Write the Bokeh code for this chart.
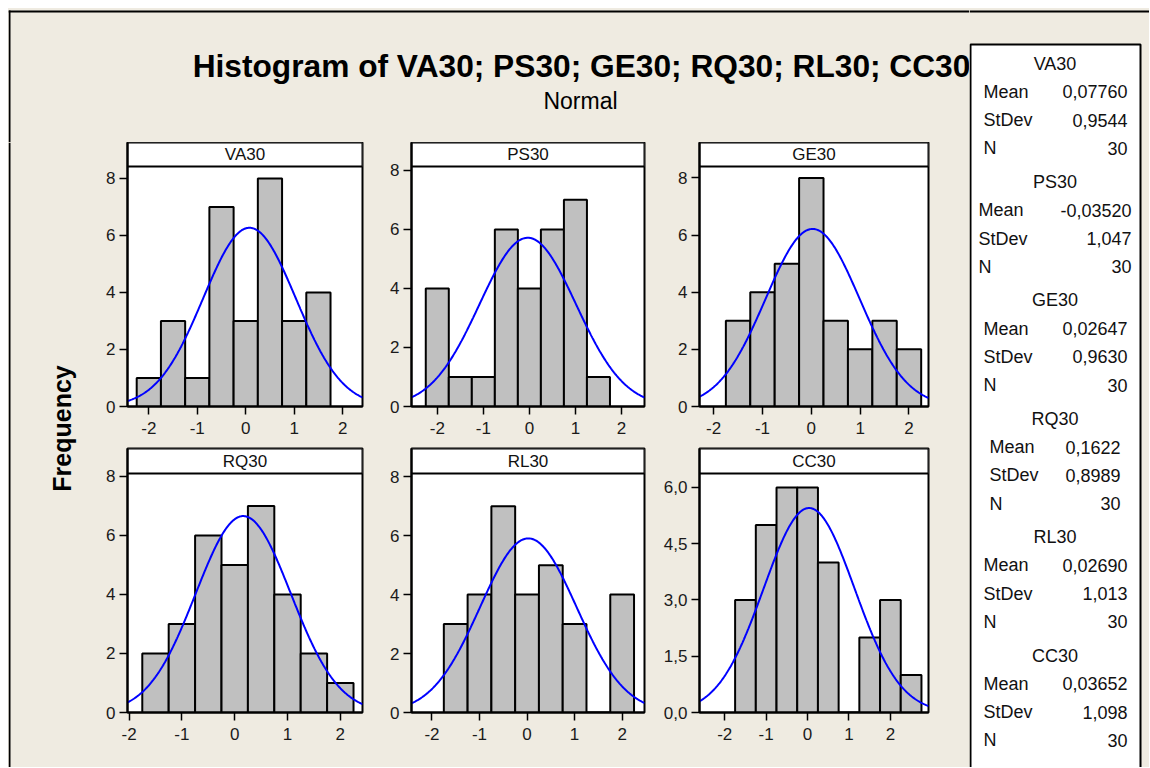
import numpy as np
from bokeh.plotting import figure
from bokeh.layouts import row, column
from bokeh.models import Range1d, FixedTicker, Spacer
from bokeh.core.properties import value
from bokeh.embed import file_html
from bokeh.resources import INLINE

# ---------------- data ----------------
variables = ["VA30", "PS30", "GE30", "RQ30", "RL30", "CC30"]

va30_centers = [-2.0, -1.5, -1.0, -0.5, 0.0, 0.5, 1.0, 1.5]
va30_counts = [1, 3, 1, 7, 3, 8, 3, 4]
ps30_centers = [-2.0, -1.5, -1.0, -0.5, 0.0, 0.5, 1.0, 1.5]
ps30_counts = [4, 1, 1, 6, 4, 6, 7, 1]
ge30_centers = [-1.5, -1.0, -0.5, 0.0, 0.5, 1.0, 1.5, 2.0]
ge30_counts = [3, 4, 5, 8, 3, 2, 3, 2]
rq30_centers = [-1.5, -1.0, -0.5, 0.0, 0.5, 1.0, 1.5, 2.0]
rq30_counts = [2, 3, 6, 5, 7, 4, 2, 1]
rl30_centers = [-1.5, -1.0, -0.5, 0.0, 0.5, 1.0, 1.5, 2.0]
rl30_counts = [3, 4, 7, 4, 5, 3, 0, 4]
cc30_centers = [-1.5, -1.0, -0.5, 0.0, 0.5, 1.0, 1.5, 2.0, 2.5]
cc30_counts = [3, 5, 6, 6, 4, 0, 2, 3, 1]

means = [0.07760, -0.03520, 0.02647, 0.1622, 0.02690, 0.03652]
stdevs = [0.9544, 1.047, 0.9630, 0.8989, 1.013, 1.098]
n_obs = [30, 30, 30, 30, 30, 30]
bin_width = 0.5

x_ticks = [-2, -1, 0, 1, 2]
x_tick_labels = ["-2", "-1", "0", "1", "2"]
freq_ticks = [0, 2, 4, 6, 8]
freq_tick_labels = ["0", "2", "4", "6", "8"]
cc_freq_ticks = [0, 1.5, 3, 4.5, 6]
cc_freq_tick_labels = ["0,0", "1,5", "3,0", "4,5", "6,0"]

title_text = "Histogram of VA30; PS30; GE30; RQ30; RL30; CC30"
subtitle_text = "Normal"
y_label_text = "Frequency"
stat_labels = ["Mean", "StDev", "N"]

centers_list = [va30_centers, ps30_centers, ge30_centers, rq30_centers, rl30_centers, cc30_centers]
counts_list = [va30_counts, ps30_counts, ge30_counts, rq30_counts, rl30_counts, cc30_counts]

# axis extents of each panel
x_limits = [(-2.44, 2.41), (-2.56, 2.50), (-2.29, 2.40), (-2.03, 2.42), (-2.43, 2.47), (-2.61, 2.92)]
y_limits = [8.42, 8.13, 8.40, 8.10, 8.11, 6.37]

# ---------------- style ----------------
BEIGE = "#EFEBE1"
FONT = "Liberation Sans"
BG = {"background-color": BEIGE}

col_specs = [(39, 235, 16), (33, 233, 16), (36, 232, 41)]  # left border, frame, right border
row_specs = [  # top border, strip height, plot height, bottom border
    (0, 24, 240, 34),
    (8, 25, 239, 55),
]


def panel_fig(i, col, r):
    lb, fw, rb = col_specs[col]
    tb, sh, ph, bb = row_specs[r]
    x0, x1 = x_limits[i]
    ymax = y_limits[i]
    ytop = ymax * (ph + sh) / ph  # strip sits above the plotting area
    p = figure(width=lb + fw + rb, height=tb + sh + ph + bb, x_range=Range1d(x0, x1),
               y_range=Range1d(0, ytop),
               min_border_left=lb, min_border_right=rb, min_border_top=tb, min_border_bottom=bb,
               output_backend="svg", toolbar_location=None,
               background_fill_color="white", border_fill_color=BEIGE,
               outline_line_color="black", outline_line_width=2)
    p.grid.visible = False
    c = np.array(centers_list[i], dtype=float)
    h = np.array(counts_list[i], dtype=float)
    p.quad(left=c - bin_width / 2, right=c + bin_width / 2, bottom=0, top=h,
           fill_color="#C0C0C0", line_color="black", line_width=2)
    xs = np.linspace(x0, x1, 300)
    m, s, n = means[i], stdevs[i], n_obs[i]
    ys = n * bin_width * np.exp(-0.5 * ((xs - m) / s) ** 2) / (s * np.sqrt(2 * np.pi))
    p.line(xs, ys, line_color="#0000FF", line_width=2)

    # strip header
    p.quad(left=x0, right=x1, bottom=ymax, top=ytop, fill_color="white",
           line_color="black", line_width=2)
    p.text(x=[(x0 + x1) / 2], y=[(ymax + ytop) / 2], text=[variables[i]],
           text_font=value(FONT), text_font_size="17px", text_align="center",
           text_baseline="middle", text_color="#111111")

    p.xaxis.ticker = FixedTicker(ticks=x_ticks)
    p.xaxis.major_label_overrides = {t: l for t, l in zip(x_ticks, x_tick_labels)}
    if variables[i] == "CC30":
        yt, yl = cc_freq_ticks, cc_freq_tick_labels
    else:
        yt, yl = freq_ticks, freq_tick_labels
    p.yaxis.ticker = FixedTicker(ticks=yt)
    p.yaxis.major_label_overrides = {t: l for t, l in zip(yt, yl)}
    for ax in (p.xaxis[0], p.yaxis[0]):
        ax.axis_line_color = "black"
        ax.axis_line_width = 2
        ax.major_tick_in = 0
        ax.major_tick_out = 8
        ax.major_tick_line_color = "black"
        ax.major_tick_line_width = 1.5
        ax.minor_tick_line_color = None
        ax.major_label_text_font = FONT
        ax.major_label_text_font_size = "17px"
        ax.major_label_text_color = "#1a1a1a"
    p.xaxis.major_label_standoff = 7
    p.yaxis.major_label_standoff = 4
    return p


columns = []
for col in range(3):
    columns.append(column(panel_fig(col, col, 0), panel_fig(col + 3, col, 1), styles=BG))

grid_h = sum(sum(r) for r in row_specs)
TOP_H = 134
LEFT_W = 80 + sum(sum(c) for c in col_specs)  # 961
TOTAL_H = TOP_H + grid_h


def plain_fig(w, h):
    p = figure(width=w, height=h, x_range=Range1d(0, w), y_range=Range1d(0, h),
               min_border=0, x_axis_type=None, y_axis_type=None, output_backend="svg",
               toolbar_location=None, background_fill_color=BEIGE, border_fill_color=BEIGE,
               outline_line_color=None)
    p.grid.visible = False
    return p


# title area
title_fig = plain_fig(LEFT_W, TOP_H)
title_fig.quad(left=0, right=LEFT_W, bottom=TOP_H - 4, top=TOP_H - 2, fill_color="black", line_color=None)
title_fig.quad(left=0, right=2, bottom=0, top=TOP_H - 2, fill_color="black", line_color=None)
title_fig.text(x=[573], y=[TOP_H - 57], text=[title_text], text_font=value(FONT),
               text_font_style="bold", text_font_size="31.7px", text_align="center",
               text_baseline="middle", text_color="black")
title_fig.text(x=[572], y=[TOP_H - 92], text=[subtitle_text], text_font=value(FONT),
               text_font_size="23px", text_align="center", text_baseline="middle",
               text_color="black")

# y label area
freq_fig = plain_fig(80, grid_h)
freq_fig.quad(left=0, right=2, bottom=0, top=grid_h, fill_color="black", line_color=None)
freq_fig.text(x=[53], y=[grid_h - 286], text=[y_label_text], angle=np.pi / 2,
              text_font=value(FONT), text_font_style="bold", text_font_size="25px",
              text_align="center", text_baseline="middle", text_color="black")

left_part = column(title_fig, row(freq_fig, *columns, styles=BG), styles=BG)

# legend area
LEG_W = 180
leg = plain_fig(LEG_W, TOTAL_H)
leg.quad(left=0, right=LEG_W, bottom=TOTAL_H - 4, top=TOTAL_H - 2, fill_color="black", line_color=None)
leg.quad(left=1, right=171, bottom=-20, top=TOTAL_H - 36, fill_color="white",
         line_color="black", line_width=2)


def fmt(v):
    return f"{v:#.4g}".replace(".", ",")


label_dx = [0, -5, 0, 6, 0, 0]
value_dx = [0, 4, 0, -7, 0, 0]
head_x, head_y, block_step = 85.5, 63 - 8, 118.4
row_offsets = [28.3, 56.6, 84.8]
for i, name in enumerate(variables):
    y0 = head_y + i * block_step
    leg.text(x=[head_x], y=[TOTAL_H - y0], text=[name], text_font=value(FONT),
             text_font_size="18px", text_align="center", text_baseline="middle", text_color="#111111")
    vals = [fmt(means[i]), fmt(stdevs[i]), str(n_obs[i])]
    ys = [TOTAL_H - (y0 + o) for o in row_offsets]
    leg.text(x=[14 + label_dx[i]] * 3, y=ys, text=stat_labels, text_font=value(FONT),
             text_font_size="18px", text_align="left", text_baseline="middle", text_color="#111111")
    leg.text(x=[158 + value_dx[i]] * 3, y=ys, text=vals, text_font=value(FONT),
             text_font_size="18px", text_align="right", text_baseline="middle", text_color="#111111")

content = row(left_part, leg, styles=BG)
page = column(Spacer(height=8), row(Spacer(width=8), content))

open("out.html", "w").write(file_html(page, INLINE))
